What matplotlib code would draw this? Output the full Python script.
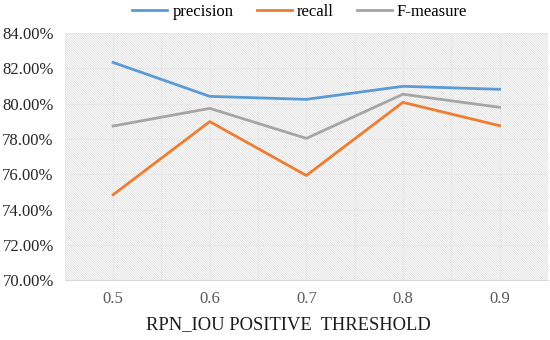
import matplotlib
matplotlib.use('Agg')
import matplotlib.pyplot as plt
from matplotlib.patches import Rectangle
import numpy as np

plt.rcParams['font.family'] = ['Liberation Serif', 'DejaVu Serif']
plt.rcParams['hatch.linewidth'] = 0.5

# data
thresholds = ['0.5', '0.6', '0.7', '0.8', '0.9']
precision = [82.33, 80.41, 80.24, 80.98, 80.81]
recall = [74.84, 78.98, 75.93, 80.07, 78.75]
f_measure = [78.73, 79.73, 78.03, 80.53, 79.79]
yticks = [70, 72, 74, 76, 78, 80, 82, 84]

fig = plt.figure(figsize=(5.5, 3.4), dpi=100)
ax = fig.add_axes([0.118, 0.176, 0.878, 0.727])

x = np.arange(len(thresholds))

# hatched plot background
ax.add_patch(Rectangle((0, 0), 1, 1, transform=ax.transAxes, facecolor='white',
                       edgecolor='#dadada', hatch='\\' * 14, lw=0, zorder=0))

# gridlines: horizontal at ticks, vertical at categories and between
for yv in yticks[1:]:
    ax.axhline(yv, color='#e8e8e8', lw=0.9, zorder=1)
for xv in np.arange(-0.5, len(thresholds), 0.5):
    ax.axvline(xv, color='#e8e8e8', lw=0.9, zorder=1)

ax.plot(x, precision, color='#5B9BD5', lw=2.0, label='precision', zorder=3)
ax.plot(x, recall, color='#ED7D31', lw=2.0, label='recall', zorder=3)
ax.plot(x, f_measure, color='#A5A5A5', lw=2.0, label='F-measure', zorder=3)

ax.set_xlim(-0.5, len(thresholds) - 0.5)
ax.set_ylim(70, 84)
ax.set_xticks(x)
ax.set_xticklabels(thresholds, fontsize=12, color='#595959')
ax.set_yticks(yticks)
ax.set_yticklabels([f'{v:.2f}%' for v in yticks], fontsize=12, color='#262626')
ax.tick_params(length=0, pad=8)
ax.tick_params(axis='x', pad=8)

for s in ['top', 'right', 'left']:
    ax.spines[s].set_visible(False)
ax.spines['bottom'].set_color('#d9d9d9')

fig.text(0.525, 0.045, 'RPN_IOU POSITIVE  THRESHOLD', ha='center', va='center',
         fontsize=13.3, color='#1a1a1a')

fig.legend(loc='center', bbox_to_anchor=(0.545, 0.965), ncol=3, frameon=False,
           fontsize=12, handlelength=2.1, columnspacing=1.4, handletextpad=0.3)

fig.savefig('out.png', dpi=100)
